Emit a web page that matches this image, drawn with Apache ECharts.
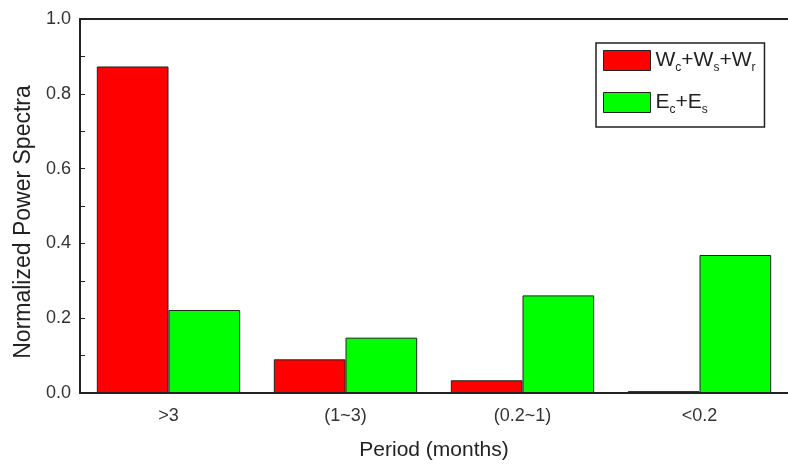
<!DOCTYPE html>
<html>
<head>
<meta charset="utf-8">
<script src="https://cdn.jsdelivr.net/npm/echarts@6/dist/echarts.min.js"></script>
<style>
  html, body { margin: 0; padding: 0; background: #fff; }
  #main { width: 788px; height: 466px; }
</style>
</head>
<body>
<div id="main"></div>
<script>
// categorias y valores
var periodos = ['>3', '(1~3)', '(0.2~1)', '<0.2'];
var valoresW = [0.873, 0.090, 0.034, 0.005];
var valoresE = [0.222, 0.148, 0.261, 0.369];
var ticksY = [0, 1.0, 0.2];

var chartDom = document.getElementById('main');
var myChart = echarts.init(chartDom);

var fuente = 'Liberation Sans, Arial, sans-serif';

var option = {
  backgroundColor: '#FFFFFF',
  animation: false,
  grid: {
    left: 80,
    top: 19,
    width: 716,
    height: 379
  },
  legend: {
    orient: 'vertical',
    left: 596,
    top: 43,
    itemWidth: 47,
    itemHeight: 20,
    itemGap: 18,
    icon: 'rect',
    padding: [7, 9, 11, 7],
    borderColor: '#222',
    borderWidth: 1.5,
    borderRadius: 0,
    backgroundColor: '#fff',
    itemStyle: { borderColor: '#222', borderWidth: 1 },
    textStyle: {
      fontFamily: fuente,
      color: '#222',
      fontSize: 21,
      rich: {
        b: { fontFamily: fuente, fontSize: 21, color: '#222' },
        s: { fontFamily: fuente, fontSize: 12, color: '#222', verticalAlign: 'bottom', padding: [15, 0, 0, 0] }
      }
    },
    formatter: function (name) {
      if (name === 'W') return '{b|W}{s|c}{b|+W}{s|s}{b|+W}{s|r}';
      return '{b|E}{s|c}{b|+E}{s|s}';
    },
    data: ['W', 'E']
  },
  xAxis: [
    {
      type: 'category',
      data: periodos,
      name: 'Period (months)',
      nameLocation: 'middle',
      nameGap: 47,
      nameTextStyle: { fontFamily: fuente, fontSize: 21, color: '#222' },
      axisLine: { lineStyle: { color: '#222', width: 2 } },
      axisTick: { inside: true, length: 5, lineStyle: { color: '#222' } },
      axisLabel: { fontFamily: fuente, fontSize: 18, color: '#333', margin: 14 }
    },
    {
      // linea superior del marco
      type: 'category',
      position: 'top',
      data: periodos,
      axisLine: { show: true, lineStyle: { color: '#222', width: 2 } },
      axisTick: { show: false },
      axisLabel: { show: false }
    }
  ],
  yAxis: {
    type: 'value',
    min: ticksY[0],
    max: ticksY[1],
    interval: ticksY[2],
    name: 'Normalized Power Spectra',
    nameLocation: 'middle',
    nameGap: 45,
    nameTextStyle: { fontFamily: fuente, fontSize: 23, color: '#222', padding: [0, 32, 0, 0] },
    axisLine: { show: true, lineStyle: { color: '#222', width: 2 } },
    axisTick: { show: true, inside: true, length: 5, lineStyle: { color: '#222' } },
    minorTick: { show: true, splitNumber: 2, length: 5, lineStyle: { color: '#222' } },
    splitLine: { show: false },
    axisLabel: {
      fontFamily: fuente, fontSize: 18, color: '#333', margin: 9,
      formatter: function (v) { return v.toFixed(1); }
    }
  },
  series: [
    {
      name: 'W',
      type: 'bar',
      data: valoresW,
      barGap: '0%',
      barCategoryGap: '19%',
      itemStyle: { color: '#ff0000', borderColor: '#222', borderWidth: 1 }
    },
    {
      name: 'E',
      type: 'bar',
      data: valoresE,
      itemStyle: { color: '#00ff00', borderColor: '#222', borderWidth: 1 }
    }
  ]
};

option && myChart.setOption(option);
</script>
</body>
</html>
